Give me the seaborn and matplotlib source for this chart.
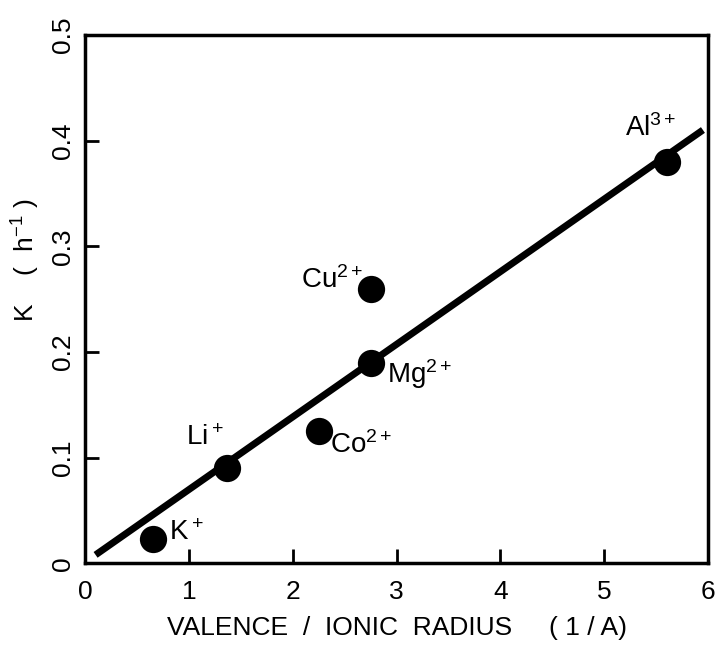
import matplotlib
matplotlib.use("Agg")
import matplotlib.pyplot as plt
import seaborn as sns
import pandas as pd

ions = ["K$^+$", "Li$^+$", "Co$^{2+}$", "Mg$^{2+}$", "Cu$^{2+}$", "Al$^{3+}$"]
valence_radius = [0.65, 1.37, 2.25, 2.75, 2.75, 5.60]
k_values = [0.023, 0.090, 0.125, 0.190, 0.260, 0.380]
line_x = [0.10, 5.95]
line_y = [0.008, 0.410]
x_ticks = [0, 1, 2, 3, 4, 5, 6]
y_ticks = [0, 0.1, 0.2, 0.3, 0.4, 0.5]
y_ticklabels = ["0", "0.1", "0.2", "0.3", "0.4", "0.5"]

sns.set_theme(style="white")
plt.rcParams['font.family'] = ['Liberation Sans', 'DejaVu Sans']
plt.rcParams['mathtext.fontset'] = 'custom'
plt.rcParams['mathtext.rm'] = 'Liberation Sans'
plt.rcParams['mathtext.it'] = 'Liberation Sans'
plt.rcParams['text.color'] = 'black'
plt.rcParams['axes.labelcolor'] = 'black'
plt.rcParams['xtick.color'] = 'black'
plt.rcParams['ytick.color'] = 'black'

FS = 19

df = pd.DataFrame({"x": valence_radius, "k": k_values, "ion": ions})
line_df = pd.DataFrame({"x": line_x, "k": line_y})

fig = plt.figure(figsize=(7.16, 6.46), dpi=100)
ax = fig.add_axes([0.119, 0.128, 0.870, 0.818])

sns.lineplot(data=line_df, x="x", y="k", ax=ax, color="black", linewidth=5, solid_capstyle="butt")
sns.scatterplot(data=df, x="x", y="k", ax=ax, color="black", s=330, edgecolor="black", zorder=5)

offsets = {
    "K$^+$": (12, 4, "left"),
    "Li$^+$": (-30, 22, "left"),
    "Co$^{2+}$": (8, -10, "left"),
    "Mg$^{2+}$": (12, -8, "left"),
    "Cu$^{2+}$": (-50, 6, "left"),
    "Al$^{3+}$": (-30, 24, "left"),
}
for xv, yv, lab in zip(valence_radius, k_values, ions):
    dx, dy, ha = offsets[lab]
    ax.annotate(lab, (xv, yv), xytext=(dx, dy), textcoords="offset points",
                fontsize=FS + 1, ha=ha, va="center", color="black")

ax.set_xlim(0, 6)
ax.set_ylim(0, 0.5)
ax.set_xticks(x_ticks)
ax.set_xticklabels([str(t) for t in x_ticks], fontsize=FS)
ax.set_yticks(y_ticks)
ax.set_yticklabels(y_ticklabels, fontsize=FS, rotation=90, va="center")
ax.tick_params(direction="in", length=10, width=2, left=True, bottom=True, top=False, right=False)
ax.tick_params(axis="x", pad=12)
ax.tick_params(axis="y", pad=7)
ax.set_xlabel("VALENCE  /  IONIC  RADIUS     ( 1 / A)", fontsize=FS)
ax.set_ylabel("K    (  h$^{-1}$ )", fontsize=FS)
ax.xaxis.label.set_va("center")
ax.yaxis.label.set_va("center")
ax.xaxis.set_label_coords(0.5, -0.123)
ax.yaxis.set_label_coords(-0.096, 0.574)
for sp in ax.spines.values():
    sp.set_visible(True)
    sp.set_color("black")
    sp.set_linewidth(2.5)

fig.savefig("out.png", dpi=100)
